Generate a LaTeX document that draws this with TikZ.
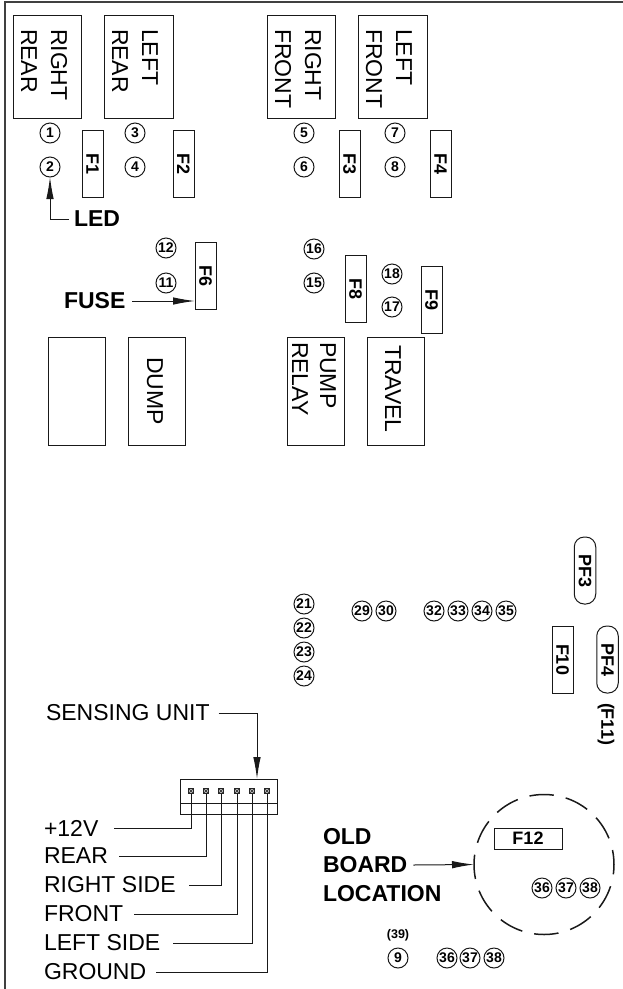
\documentclass[tikz,border=0pt]{standalone}
\usepackage{fontspec}
\setmainfont{Liberation Sans}
\usetikzlibrary{arrows.meta}
\newcommand{\fs}[1]{\fontsize{#1}{#1}\selectfont}
\tikzset{
  ln/.style={line width=1pt,draw=black!90},
  relbox/.style={ln,rectangle,inner sep=0pt,outer sep=0pt,minimum width=#1,minimum height=103pt},
  fuse/.style={ln,rectangle,inner sep=0pt,outer sep=0pt,rotate=-90,minimum width=67pt,minimum height=21pt,font=\bfseries\fs{18}},
  pfuse/.style={fuse,rounded corners=10pt,minimum height=21.5pt},
  num/.style={ln,circle,inner sep=0pt,outer sep=0pt,minimum size=20pt,font=\bfseries\fs{14}},
  rot/.style={inner sep=0pt,outer sep=0pt,rotate=-90,anchor=base west,font=\fs{23}},
  lab/.style={inner sep=0pt,outer sep=0pt,anchor=west,font=\fs{23}},
  blab/.style={lab,font=\bfseries\fs{23}},
  pin/.style={draw=black!85,line width=0.6pt,fill=black!25,rectangle,inner sep=0pt,outer sep=0pt,minimum size=5.5pt,
    path picture={\draw[line width=0.4pt] (path picture bounding box.north west)--(path picture bounding box.south east)
      (path picture bounding box.north east)--(path picture bounding box.south west);}},
  tip/.style={ln,-{Latex[length=22pt,width=7.5pt]}},
}
\begin{document}
\begin{tikzpicture}[x=1pt,y=-1pt]
\useasboundingbox (0,0) rectangle (623,989);
% frame
\draw[line width=1.2pt,draw=black!75] (5,989) -- (5,2) -- (623,2);
% relay boxes top
\node[relbox=68pt] (rr) at (47,66.5) {};
\node[relbox=69pt] (lr) at (138.5,66.5) {};
\node[relbox=68pt] (rf) at (301,66.5) {};
\node[relbox=69pt] (lf) at (392.5,66.5) {};
\node[rot] (t1) at (51,29) {RIGHT};
\node[rot] (t2) at (21,29) {REAR};
\node[rot] (t3) at (142,29) {LEFT};
\node[rot] (t4) at (112,29) {REAR};
\node[rot] (t5) at (305,29) {RIGHT};
\node[rot] (t6) at (275,29) {FRONT};
\node[rot] (t7) at (396,29) {LEFT};
\node[rot] (t8) at (366,29) {FRONT};
% top fuses
\node[fuse] (f1) at (92.5,163.5) {F1};
\node[fuse] (f2) at (183.5,163.5) {F2};
\node[fuse] (f3) at (349.5,163.5) {F3};
\node[fuse] (f4) at (440.5,163.5) {F4};
% numbers top
\node[num] (c1) at (50,133) {1};
\node[num] (c2) at (50,167) {2};
\node[num] (c3) at (135,133) {3};
\node[num] (c4) at (135,167) {4};
\node[num] (c5) at (304,133) {5};
\node[num] (c6) at (304,167) {6};
\node[num] (c7) at (395,133) {7};
\node[num] (c8) at (395,167) {8};
% LED
\node[blab,inner xsep=5pt] (led) at (69,219) {LED};
\draw[tip] (led.west) -| (c2.south);
% middle row
\node[fuse] (f6) at (205.5,275.5) {F6};
\node[num] (c12) at (166,248) {12};
\node[num] (c11) at (166,283) {11};
\node[blab,inner xsep=7pt] (fl) at (57,301) {FUSE};
\draw[tip] (fl.east) -- (fl.east -| f6.south);
\node[fuse] (f8) at (355.5,288.5) {F8};
\node[fuse] (f9) at (431.5,299.5) {F9};
\node[num] (c16) at (314,249) {16};
\node[num] (c15) at (314,283) {15};
\node[num] (c18) at (392,274) {18};
\node[num] (c17) at (392,307) {17};
% lower relays
\node[relbox=57pt,minimum height=108pt] (r1) at (76.5,391) {};
\node[relbox=57pt,minimum height=108pt] (r2) at (156.5,391) {};
\node[relbox=57pt,minimum height=108pt] (r3) at (315.5,391) {};
\node[relbox=57pt,minimum height=108pt] (r4) at (395.5,391) {};
\node[rot] (t9) at (147,357) {DUMP};
\node[rot] (t10) at (320,342) {PUMP};
\node[rot] (t11) at (292,342) {RELAY};
\node[rot] (t12) at (385,345) {TRAVEL};
% centre groups
\node[num] (c21) at (304,604) {21};
\node[num] (c22) at (304,628) {22};
\node[num] (c23) at (304,652) {23};
\node[num] (c24) at (304,676) {24};
\node[num] (c29) at (362,611) {29};
\node[num] (c30) at (386,611) {30};
\node[num] (c32) at (434,611) {32};
\node[num] (c33) at (458,611) {33};
\node[num] (c34) at (482,611) {34};
\node[num] (c35) at (506,611) {35};
% right fuses
\node[pfuse] (pf3) at (585,570.5) {PF3};
\node[fuse] (f10) at (562.5,659.5) {F10};
\node[pfuse] (pf4) at (607.5,659.5) {PF4};
\node[inner sep=0pt,rotate=-90,font=\bfseries\fs{18}] (f11) at (606,724) {(F11)};
% sensing unit
\node[lab] (su) at (46,713) {SENSING UNIT\kern9pt};
\node[ln,rectangle,inner sep=0pt,outer sep=0pt,minimum width=97pt,minimum height=35pt] (conn) at (228.5,796.5) {};
\coordinate (inner1) at (180,803);
\coordinate (inner2) at (277,803);
\coordinate (sutip) at (257,779);
\draw[ln] (inner1) -- (inner2);
\draw[tip] (su.east) -| (sutip);
\node[pin] (p1) at (191,791) {};
\node[pin] (p2) at (206,791) {};
\node[pin] (p3) at (221,791) {};
\node[pin] (p4) at (237,791) {};
\node[pin] (p5) at (252,791) {};
\node[pin] (p6) at (267,791) {};
\node[lab] (w1) at (44,828) {+12V\kern16pt};
\node[lab] (w2) at (44,856) {REAR\kern11pt};
\node[lab] (w3) at (44,885) {RIGHT SIDE\kern13pt};
\node[lab] (w4) at (44,914) {FRONT\kern11pt};
\node[lab] (w5) at (44,943) {LEFT SIDE\kern13pt};
\node[lab] (w6) at (44,972) {GROUND\kern10pt};
\draw[ln] (p1.south) |- (w1.east);
\draw[ln] (p2.south) |- (w2.east);
\draw[ln] (p3.south) |- (w3.east);
\draw[ln] (p4.south) |- (w4.east);
\draw[ln] (p5.south) |- (w5.east);
\draw[ln] (p6.south) |- (w6.east);
% old board
\node[circle,line width=1.5pt,draw=black!90,inner sep=0pt,outer sep=0pt,minimum size=140pt,dash pattern=on 24.4pt off 12.25pt,dash phase=9.8pt] (old) at (544,864.5) {};
\node[blab] (ob1) at (323,837) {OLD};
\node[blab] (ob2) at (323,865) {BOARD\kern6pt};
\node[blab] (ob3) at (323,894) {LOCATION};
\draw[tip] (ob2.east) -- (old.west);
\node[ln,rectangle,inner sep=0pt,outer sep=0pt,minimum width=68pt,minimum height=21pt,font=\bfseries\fs{18}] (f12) at (528,838.5) {F12};
\node[num] (d36) at (542,888) {36};
\node[num] (d37) at (566,888) {37};
\node[num] (d38) at (590,888) {38};
\node[inner sep=0pt,font=\bfseries\fs{12.5}] (n39) at (398,935) {(39)};
\node[num] (c9) at (398,958) {9};
\node[num] (e36) at (447,958) {36};
\node[num] (e37) at (470,958) {37};
\node[num] (e38) at (494,958) {38};
\end{tikzpicture}
\end{document}
